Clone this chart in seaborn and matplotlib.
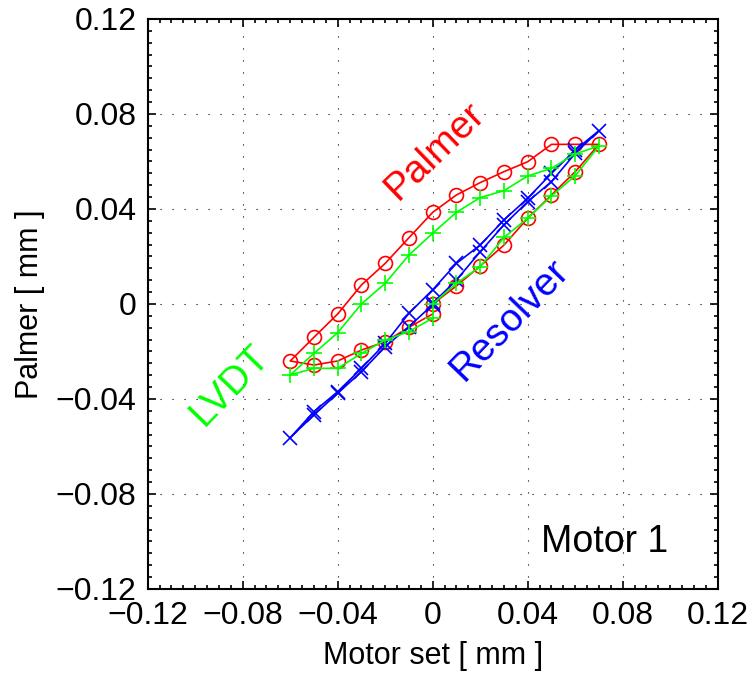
"""Hysteresis loop of motor 1: Palmer, LVDT and resolver readings vs motor set.

Run: ``python plot.py``
"""

import matplotlib

matplotlib.use("Agg")
import matplotlib.pyplot as plt  # noqa: E402
import pandas as pd  # noqa: E402
import seaborn as sns  # noqa: E402
from matplotlib.ticker import FixedLocator, FixedFormatter, MultipleLocator  # noqa: E402

# motor path: 0 -> +0.07 -> -0.06 -> 0 (mm)
motor_set = [0.00, 0.01, 0.02, 0.03, 0.04, 0.05, 0.06, 0.07,
             0.06, 0.05, 0.04, 0.03, 0.02, 0.01, 0.00, -0.01, -0.02, -0.03, -0.04, -0.05, -0.06,
             -0.05, -0.04, -0.03, -0.02, -0.01, 0.00]
palmer = [0.0000, 0.0076, 0.0160, 0.0248, 0.0361, 0.0459, 0.0557, 0.0672,
          0.0672, 0.0672, 0.0599, 0.0557, 0.0511, 0.0459, 0.0386, 0.0279, 0.0171, 0.0080,
          -0.0042, -0.0140, -0.0240,
          -0.0257, -0.0240, -0.0194, -0.0159, -0.0098, -0.0042]
lvdt = [0.0000, 0.0087, 0.0157, 0.0280, 0.0361, 0.0455, 0.0540, 0.0665,
        0.0632, 0.0571, 0.0539, 0.0477, 0.0448, 0.0386, 0.0298, 0.0206, 0.0087, 0.0000,
        -0.0121, -0.0208, -0.0299,
        -0.0271, -0.0271, -0.0208, -0.0152, -0.0116, -0.0060]
resolver = [0.0003, 0.0101, 0.0220, 0.0333, 0.0431, 0.0515, 0.0634, 0.0730,
            0.0648, 0.0550, 0.0445, 0.0354, 0.0248, 0.0171, 0.0060, -0.0039, -0.0166, -0.0271,
            -0.0369, -0.0453, -0.0563,
            -0.0467, -0.0376, -0.0285, -0.0180, -0.0095, -0.0003]

tick_values = [-0.12, -0.08, -0.04, 0.0, 0.04, 0.08, 0.12]
tick_labels = ["\u22120.12", "\u22120.08", "\u22120.04", "0", "0.04", "0.08", "0.12"]


def main() -> None:
    sns.set_style("ticks")
    plt.rcParams["font.family"] = ["Liberation Sans", "DejaVu Sans"]

    df = pd.DataFrame(
        {"motor": motor_set, "Palmer": palmer, "LVDT": lvdt, "Resolver": resolver}
    )

    fig = plt.figure(figsize=(7.54, 6.77), dpi=100)
    ax = fig.add_axes([0.1959, 0.13, 0.756, 0.842])

    # (column, colour, marker, size) -- drawn red, blue, green as in the original
    series = [
        ("Palmer", "#ff0000", "o", 10),
        ("Resolver", "#0000ff", "x", 10),
        ("LVDT", "#00ff00", "+", 12),
    ]
    for col, colour, marker, size in series:
        sns.lineplot(
            data=df, x="motor", y=col, sort=False, estimator=None, ax=ax,
            color=colour, linewidth=1.2, marker=marker, markersize=size,
            markerfacecolor="none", markeredgecolor=colour, markeredgewidth=1.2,
        )

    ax.set(xlim=(-0.12, 0.12), ylim=(-0.12, 0.12))
    for axis in (ax.xaxis, ax.yaxis):
        axis.set_major_locator(FixedLocator(tick_values))
        axis.set_major_formatter(FixedFormatter(tick_labels))
        axis.set_minor_locator(MultipleLocator(0.005))
    ax.tick_params(which="both", direction="in", top=True, right=True,
                   width=1.2, colors="k", labelsize=23)
    ax.tick_params(which="major", length=6)
    ax.tick_params(which="minor", length=3)
    ax.tick_params(axis="x", pad=9)
    ax.tick_params(axis="y", pad=8)
    ax.grid(True, which="major", color="k", linestyle=(0, (1, 9.8)), linewidth=0.8)
    for spine in ax.spines.values():
        spine.set_linewidth(1.5)
        spine.set_color("k")

    ax.set_xlabel("Motor set [ mm ]", fontsize=22, color="k", labelpad=7)
    ax.set_ylabel("Palmer [ mm ]", fontsize=22, color="k", labelpad=8)

    ax.text(0.001, 0.0645, "Palmer", color="#ff0000", fontsize=28,
            rotation=44, ha="center", va="center")
    ax.text(0.0325, -0.0067, "Resolver", color="#0000ff", fontsize=28,
            rotation=46, ha="center", va="center")
    ax.text(-0.0853, -0.0341, "LVDT", color="#00ff00", fontsize=28,
            rotation=46, ha="center", va="center")
    ax.text(0.0722, -0.1002, "Motor 1", color="k", fontsize=27,
            ha="center", va="center")

    fig.savefig("out.png", dpi=100)
    plt.close(fig)


if __name__ == "__main__":
    main()
